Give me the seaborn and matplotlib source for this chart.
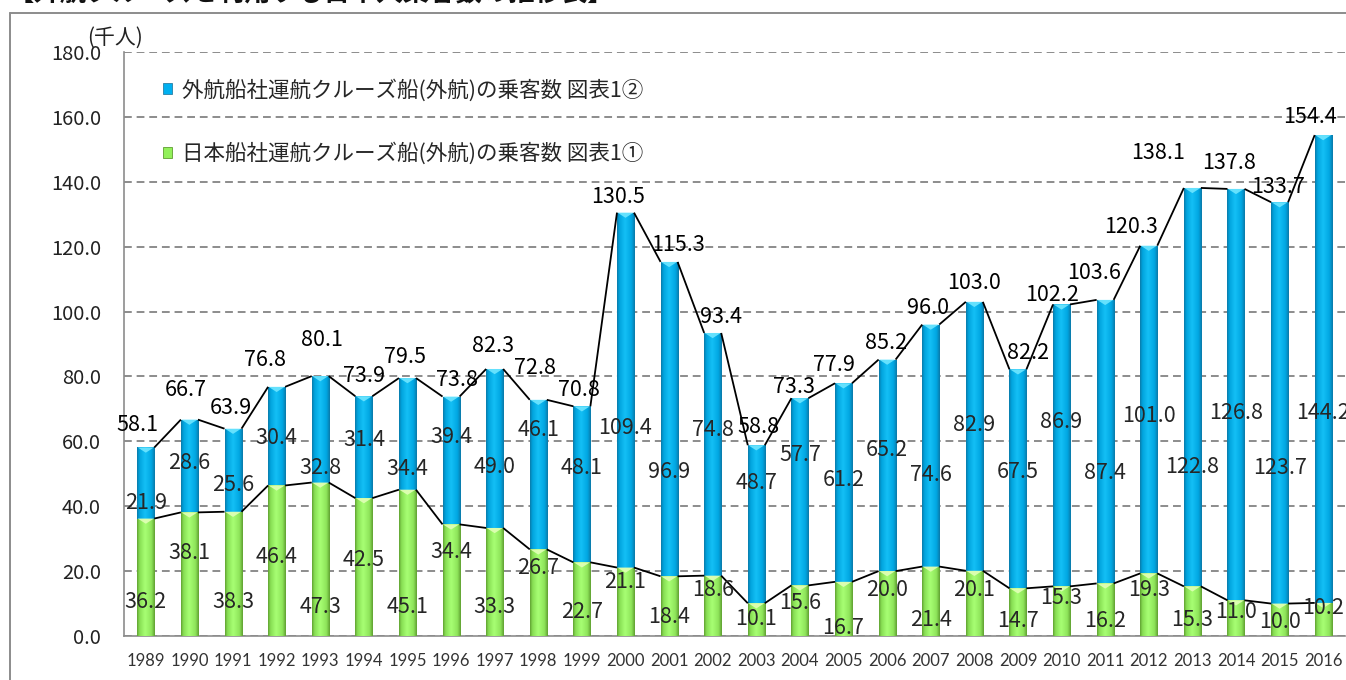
import numpy as np
import pandas as pd
import matplotlib
matplotlib.use('Agg')
import matplotlib.pyplot as plt
import seaborn as sns
from matplotlib.patches import Patch, Polygon
from matplotlib.lines import Line2D
from matplotlib.colors import LinearSegmentedColormap
from matplotlib.ticker import FuncFormatter, FixedLocator

# ---------------- data ----------------
years = [str(y) for y in range(1989, 2017)]
japan = [36.2, 38.1, 38.3, 46.4, 47.3, 42.5, 45.1, 34.4, 33.3, 26.7, 22.7, 21.1, 18.4, 18.6,
         10.1, 15.6, 16.7, 20.0, 21.4, 20.1, 14.7, 15.3, 16.2, 19.3, 15.3, 11.0, 10.0, 10.2]
foreign = [21.9, 28.6, 25.6, 30.4, 32.8, 31.4, 34.4, 39.4, 49.0, 46.1, 48.1, 109.4, 96.9, 74.8,
           48.7, 57.7, 61.2, 65.2, 74.6, 82.9, 67.5, 86.9, 87.4, 101.0, 122.8, 126.8, 123.7, 144.2]
totals = [58.1, 66.7, 63.9, 76.8, 80.1, 73.9, 79.5, 73.8, 82.3, 72.8, 70.8, 130.5, 115.3, 93.4,
          58.8, 73.3, 77.9, 85.2, 96.0, 103.0, 82.2, 102.2, 103.6, 120.3, 138.1, 137.8, 133.7, 154.4]

legend_foreign = '外航船社運航クルーズ船(外航)の乗客数 図表1②'
legend_japan = '日本船社運航クルーズ船(外航)の乗客数 図表1①'
title_text = '【外航クルーズを利用する日本人乗客数の推移表】'
unit_text = '(千人)'

# label placement (data units, as laid out in the original chart)
green_label_y = [10.6, 25.6, 10.5, 24.4, 8.9, 23.4, 8.9, 25.9, 8.9, 21.0, 7.4, 16.6, 5.9, 14.2,
                 5.2, 10.2, 2.5, 14.2, 4.9, 14.2, 4.6, 11.7, 4.6, 14.2, 4.9, 7.4, 4.3, 8.6]
blue_label_y = [41.0, 53.3, 46.5, 61.0, 51.8, 60.4, 51.5, 61.3, 52.1, 63.5, 51.8, 64.1, 50.6, 63.5,
                47.2, 55.8, 48.1, 57.3, 49.6, 65.0, 50.6, 66.0, 50.2, 67.8, 52.1, 68.7, 51.8, 68.7]
total_label_y = [65.0, 75.8, 70.2, 85.1, 91.2, 80.1, 86.0, 78.9, 89.4, 82.6, 75.8, 135.3, 120.5, 98.3,
                 64.4, 76.8, 83.5, 90.3, 101.1, 108.8, 87.2, 105.1, 111.9, 126.1, 148.9, 145.8, 138.4, 160.0]
total_label_dx_px = [-8, -4, -2, -12, 2, 0, -2, 6, -2, -3, -3, -7, 9, 8,
                     2, -6, -10, -1, -3, 0, 10, -9, -11, -18, -34, -7, -2, -13]

# ---------------- style ----------------
W, H = 1346, 680
sns.set_theme(style='white')
plt.rcParams['font.family'] = ['Noto Sans CJK JP', 'DejaVu Sans']

BLUE = '#00B0F0'
GREEN = '#92F05A'
GRID = '#8C8C8C'
BAR_W = 0.39

blue_cmap = LinearSegmentedColormap.from_list('b', [(0, '#0B78A6'), (0.12, '#00A2DC'), (0.45, '#14C0F6'),
                                                    (0.82, '#00A6E2'), (1, '#0B78A6')])
green_cmap = LinearSegmentedColormap.from_list('g', [(0, '#5E9E30'), (0.12, '#86DC52'), (0.45, '#A8FF74'),
                                                     (0.82, '#8EE45A'), (1, '#5E9E30')])

fig = plt.figure(figsize=(W / 100, H / 100), dpi=100)
ax = fig.add_axes([124 / W, 44 / H, 1221 / W, 584 / H])

df = pd.DataFrame({'year': years, 'japan': japan, 'foreign': foreign, 'total': totals})

sns.barplot(data=df, x='year', y='total', color=BLUE, width=BAR_W, saturation=1,
            errorbar=None, ax=ax)
n_blue = len(ax.patches)
sns.barplot(data=df, x='year', y='japan', color=GREEN, width=BAR_W, saturation=1,
            errorbar=None, ax=ax)

grad = np.linspace(0, 1, 64).reshape(1, -1)
for k, p in enumerate(ax.patches):
    is_blue = k < n_blue
    z = 2 if is_blue else 3
    x0, y0, w, h = p.get_x(), p.get_y(), p.get_width(), p.get_height()
    p.set_zorder(z)
    p.set_edgecolor('#4d7f9a' if is_blue else '#6f9a50')
    p.set_linewidth(0.4)
    im = ax.imshow(grad, cmap=blue_cmap if is_blue else green_cmap, aspect='auto',
                   extent=[x0, x0 + w, y0, y0 + h], zorder=z + 0.1, interpolation='bicubic')
    im.set_clip_path(p)
    # light bevel triangle at the top of each segment
    top = y0 + h
    tri = Polygon([[x0 + 0.01, top], [x0 + w - 0.01, top], [x0 + w / 2, top - 1.6]],
                  closed=True, facecolor='#6FE6FF' if is_blue else '#E2FFB8',
                  edgecolor='none', alpha=0.9, zorder=z + 0.2)
    ax.add_patch(tri)

# series lines between bar tops
hw = BAR_W / 2
for i in range(len(years) - 1):
    ax.plot([i + hw, i + 1 - hw], [totals[i], totals[i + 1]], color='black', lw=1.3, zorder=4,
            solid_capstyle='butt')
    ax.plot([i + hw, i + 1 - hw], [japan[i], japan[i + 1]], color='black', lw=1.3, zorder=4,
            solid_capstyle='butt')

# value labels
LBL = 15.5
px_per_cat = 1221 / len(years)
for i in range(len(years)):
    ax.text(i, green_label_y[i], f'{japan[i]:.1f}', ha='center', va='center', fontsize=LBL,
            color='#262626', zorder=6)
    ax.text(i, blue_label_y[i], f'{foreign[i]:.1f}', ha='center', va='center', fontsize=LBL,
            color='#262626', zorder=6)
    ax.text(i + total_label_dx_px[i] / px_per_cat, total_label_y[i], f'{totals[i]:.1f}',
            ha='center', va='center', fontsize=LBL, color='black', zorder=6)

# axes
ax.set_xlim(-0.5, len(years) - 0.5)
ax.set_ylim(0, 180)
ax.yaxis.set_major_locator(FixedLocator(np.arange(0, 181, 20)))
ax.yaxis.set_major_formatter(FuncFormatter(lambda v, _: f'{v:.1f}'))
ax.yaxis.grid(True, linestyle=(0, (4, 2.5)), color=GRID, lw=1.4, zorder=0.5)
ax.set_axisbelow(True)
ax.set_xlabel('')
ax.set_ylabel('')
for s in ['top', 'right']:
    ax.spines[s].set_visible(False)
for s in ['left', 'bottom']:
    ax.spines[s].set_color(GRID)
    ax.spines[s].set_linewidth(1.2)
ax.tick_params(axis='y', length=0, pad=16.5, labelsize=14.5, labelcolor='#222222')
ax.tick_params(axis='x', which='major', length=0, pad=12, labelsize=12, labelcolor='#333333')
ax.set_xticks(np.arange(-0.5, len(years), 1.0), minor=True)
ax.tick_params(axis='x', which='minor', direction='in', length=6, color=GRID, width=1)
for lab in ax.get_xticklabels():
    lab.set_fontfamily(['Lato', 'DejaVu Sans'])

# legend
handles = [Patch(facecolor=BLUE, edgecolor='#2a7fa5', lw=0.6),
           Patch(facecolor=GREEN, edgecolor='#5e9e30', lw=0.6)]
leg = ax.legend(handles, [legend_foreign, legend_japan], loc='upper left',
                bbox_to_anchor=(163 / W, 1 - 79 / H), bbox_transform=fig.transFigure,
                frameon=False, handlelength=0.42, handleheight=0.42, handletextpad=0.45,
                labelspacing=1.9, fontsize=15.5, borderpad=0, borderaxespad=0)
for t in leg.get_texts():
    t.set_color('#262626')

# unit label, title (clipped at top) and outer frame
fig.text(115 / W, 1 - 38 / H, unit_text, ha='center', va='center', fontsize=15, color='#222222')
fig.text(8 / W, 1 + 6 / H, title_text, ha='left', va='center', fontsize=19, fontweight='bold',
         color='#111111')
fig.add_artist(Line2D([10 / W, 1], [1 - 13 / H, 1 - 13 / H], transform=fig.transFigure,
                      color=GRID, lw=1.4))
fig.add_artist(Line2D([10 / W, 10 / W], [0, 1 - 13 / H], transform=fig.transFigure,
                      color=GRID, lw=1.4))

fig.savefig('out.png', dpi=100)
